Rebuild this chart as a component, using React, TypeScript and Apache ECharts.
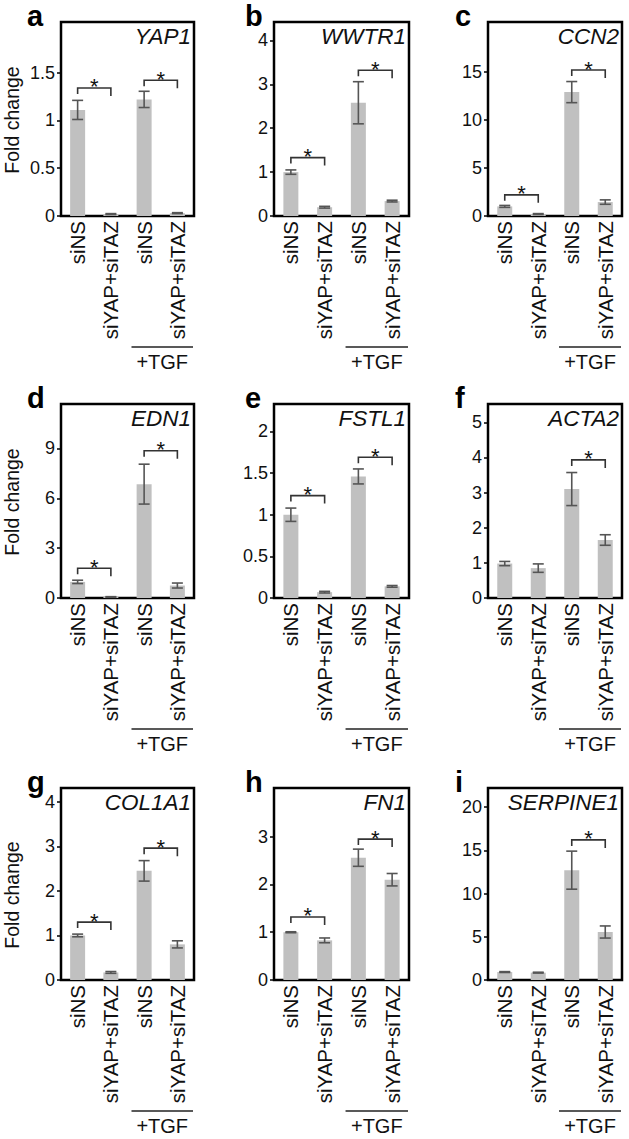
import React, { useEffect, useRef } from "react";
import * as echarts from "echarts";

const categories = ["siNS", "siYAP+siTAZ", "siNS", "siYAP+siTAZ"];
const panelLetters = ["a", "b", "c", "d", "e", "f", "g", "h", "i"];
const geneNames = ["YAP1", "WWTR1", "CCN2", "EDN1", "FSTL1", "ACTA2", "COL1A1", "FN1", "SERPINE1"];

const yap1Mean = [1.11, 0.02, 1.22, 0.03];
const yap1Err = [0.1, 0.005, 0.085, 0.005];
const wwtr1Mean = [1.0, 0.2, 2.58, 0.34];
const wwtr1Err = [0.05, 0.02, 0.48, 0.02];
const ccn2Mean = [1.0, 0.2, 12.9, 1.45];
const ccn2Err = [0.1, 0.05, 1.1, 0.23];
const edn1Mean = [0.97, 0.06, 6.85, 0.75];
const edn1Err = [0.1, 0.02, 1.2, 0.15];
const fstl1Mean = [1.0, 0.07, 1.46, 0.14];
const fstl1Err = [0.08, 0.01, 0.09, 0.01];
const acta2Mean = [0.98, 0.85, 3.1, 1.65];
const acta2Err = [0.06, 0.12, 0.47, 0.15];
const col1a1Mean = [1.0, 0.17, 2.45, 0.8];
const col1a1Err = [0.03, 0.02, 0.23, 0.08];
const fn1Mean = [1.0, 0.83, 2.56, 2.1];
const fn1Err = [0.01, 0.05, 0.18, 0.13];
const serpine1Mean = [0.92, 0.85, 12.7, 5.55];
const serpine1Err = [0.05, 0.05, 2.2, 0.7];

const meansByPanel = [yap1Mean, wwtr1Mean, ccn2Mean, edn1Mean, fstl1Mean, acta2Mean, col1a1Mean, fn1Mean, serpine1Mean];
const errsByPanel = [yap1Err, wwtr1Err, ccn2Err, edn1Err, fstl1Err, acta2Err, col1a1Err, fn1Err, serpine1Err];

const yMaxByPanel = [2.03, 4.42, 20.2, 11.67, 2.33, 5.52, 4.31, 4.02, 22.2];
const yTicksByPanel = [
  [0, 0.5, 1, 1.5],
  [0, 1, 2, 3, 4],
  [0, 5, 10, 15],
  [0, 3, 6, 9],
  [0, 0.5, 1, 1.5, 2],
  [0, 1, 2, 3, 4, 5],
  [0, 1, 2, 3, 4],
  [0, 1, 2, 3],
  [0, 5, 10, 15, 20],
];

// significance brackets: [fromCategory, toCategory, height]
const bracketsByPanel = [
  [[0, 1, 1.34], [2, 3, 1.42]],
  [[0, 1, 1.33], [2, 3, 3.32]],
  [[0, 1, 2.2], [2, 3, 15.2]],
  [[0, 1, 1.79], [2, 3, 8.86]],
  [[0, 1, 1.23], [2, 3, 1.69]],
  [[2, 3, 3.93]],
  [[0, 1, 1.3], [2, 3, 2.96]],
  [[0, 1, 1.32], [2, 3, 2.95]],
  [[2, 3, 16.2]],
];

const colLeft = [61, 274, 488];
const colWidth = [133, 135, 134];
const rowTop = [22, 404, 788];
const rowBottom = [216, 598, 980];
const letterX = [27, 245, 455];
const foldChangeY = [120, 502, 895];

const FONT = "Liberation Sans, Arial, sans-serif";
const TEXT = "#111";

export default function App() {
  const ref = useRef<HTMLDivElement>(null);

  useEffect(() => {
    if (!ref.current) return;
    const chart = echarts.init(ref.current, undefined, { renderer: "svg" });

    const grids: any[] = [];
    const xAxes: any[] = [];
    const yAxes: any[] = [];
    const series: any[] = [];
    const graphics: any[] = [];

    for (let p = 0; p < 9; p++) {
      const r = Math.floor(p / 3);
      const c = p % 3;
      const left = colLeft[c];
      const width = colWidth[c];
      const top = rowTop[r];
      const bottom = rowBottom[r];
      grids.push({
        left,
        top,
        width,
        height: bottom - top,
        show: true,
        borderColor: "#000",
        borderWidth: 2.5,
        backgroundColor: "transparent",
        containLabel: false,
      });
      xAxes.push({
        type: "category",
        gridIndex: p,
        data: categories,
        axisLine: { show: false },
        axisTick: { show: false },
        splitLine: { show: false },
        axisLabel: {
          rotate: 90,
          interval: 0,
          margin: 5,
          fontSize: 20.5,
          fontFamily: FONT,
          color: TEXT,
        },
      });
      const ticks = yTicksByPanel[p];
      yAxes.push({
        type: "value",
        gridIndex: p,
        min: 0,
        max: yMaxByPanel[p],
        interval: ticks[1] - ticks[0],
        axisLine: { show: false },
        splitLine: { show: false },
        axisTick: {
          show: true,
          length: 4,
          customValues: ticks,
          lineStyle: { color: "#000", width: 1.5 },
        },
        axisLabel: {
          margin: 6,
          fontSize: 18,
          fontFamily: FONT,
          color: TEXT,
          customValues: ticks,
        },
      });

      const means = meansByPanel[p];
      const errs = errsByPanel[p];
      series.push({
        type: "bar",
        xAxisIndex: p,
        yAxisIndex: p,
        data: means,
        barWidth: 15,
        itemStyle: { color: "#c0c0c0" },
        silent: true,
        z: 2,
      });
      series.push({
        type: "custom",
        xAxisIndex: p,
        yAxisIndex: p,
        silent: true,
        z: 3,
        encode: { x: 0, y: [1, 2] },
        data: means.map((m, i) => [i, m - errs[i], m + errs[i]]),
        renderItem: (params: any, api: any) => {
          const x = api.value(0);
          const lo = api.coord([x, api.value(1)]);
          const hi = api.coord([x, api.value(2)]);
          const cap = 5.5;
          const style = { stroke: "#555", lineWidth: 1.6 };
          return {
            type: "group",
            children: [
              { type: "line", shape: { x1: lo[0], y1: lo[1], x2: hi[0], y2: hi[1] }, style },
              { type: "line", shape: { x1: lo[0] - cap, y1: lo[1], x2: lo[0] + cap, y2: lo[1] }, style },
              { type: "line", shape: { x1: hi[0] - cap, y1: hi[1], x2: hi[0] + cap, y2: hi[1] }, style },
            ],
          };
        },
      });
      series.push({
        type: "custom",
        xAxisIndex: p,
        yAxisIndex: p,
        silent: true,
        z: 4,
        itemStyle: { color: "#111" },
        encode: { x: [0, 1], y: 2 },
        data: bracketsByPanel[p],
        renderItem: (params: any, api: any) => {
          const a = api.coord([api.value(0), api.value(2)]);
          const b = api.coord([api.value(1), api.value(2)]);
          return {
            type: "group",
            children: [
              {
                type: "polyline",
                shape: { points: [[a[0], a[1] + 6], [a[0], a[1]], [b[0], b[1]], [b[0], b[1] + 8]] },
                style: { stroke: "#333", lineWidth: 1.6, fill: null },
              },
              {
                type: "text",
                x: (a[0] + b[0]) / 2,
                y: a[1] - 1,
                style: {
                  text: "*",
                  fill: "#111",
                  fontSize: 22,
                  fontFamily: FONT,
                  align: "center",
                  verticalAlign: "middle",
                  textAlign: "center",
                  textVerticalAlign: "middle",
                },
              },
            ],
          };
        },
      });

      // panel letter
      graphics.push({
        type: "text",
        x: letterX[c],
        y: top - 6,
        style: {
          text: panelLetters[p],
          fill: "#000",
          fontSize: 29,
          fontWeight: "bold",
          fontFamily: FONT,
          align: "left",
          verticalAlign: "middle",
          textAlign: "left",
          textVerticalAlign: "middle",
        },
      });
      // gene name
      graphics.push({
        type: "text",
        x: left + width - 3,
        y: top + 14,
        style: {
          text: geneNames[p],
          fill: TEXT,
          fontSize: 22.5,
          fontStyle: "italic",
          fontFamily: FONT,
          align: "right",
          verticalAlign: "middle",
          textAlign: "right",
          textVerticalAlign: "middle",
        },
      });
      // +TGF group line and label
      const x1 = left + width * 0.53;
      const x2 = left + width - 1;
      graphics.push({
        type: "line",
        shape: { x1, y1: bottom + 131, x2, y2: bottom + 131 },
        style: { stroke: "#222", lineWidth: 1.6 },
      });
      graphics.push({
        type: "text",
        x: (x1 + x2) / 2,
        y: bottom + 146,
        style: {
          text: "+TGF",
          fill: TEXT,
          fontSize: 20,
          fontFamily: FONT,
          align: "center",
          verticalAlign: "middle",
          textAlign: "center",
          textVerticalAlign: "middle",
        },
      });
      if (c === 0) {
        graphics.push({
          type: "text",
          x: 12,
          y: foldChangeY[r],
          rotation: Math.PI / 2,
          style: {
            text: "Fold change",
            fill: TEXT,
            fontSize: 19.5,
            fontFamily: FONT,
            align: "center",
            verticalAlign: "middle",
            textAlign: "center",
            textVerticalAlign: "middle",
          },
        });
      }
    }

    chart.setOption({
      animation: false,
      backgroundColor: "#fff",
      grid: grids,
      xAxis: xAxes,
      yAxis: yAxes,
      series,
      graphic: { elements: graphics },
    });

    return () => chart.dispose();
  }, []);

  return (
    <div
      ref={ref}
      style={{ position: "fixed", left: 0, top: 0, width: 629, height: 1139, background: "#fff" }}
    />
  );
}
